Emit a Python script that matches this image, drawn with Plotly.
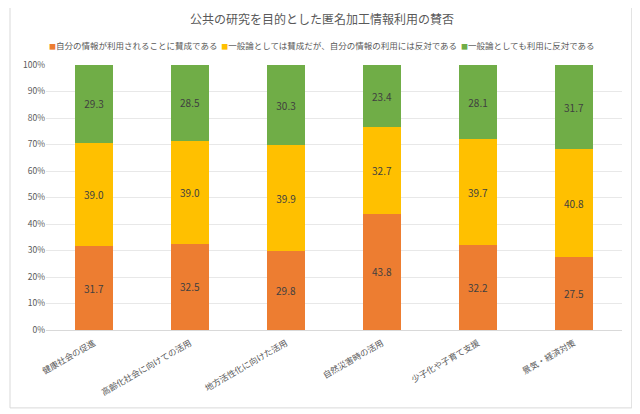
import plotly.graph_objects as go

categories = ["健康社会の促進", "高齢化社会に向けての活用", "地方活性化に向けた活用",
              "自然災害時の活用", "少子化や子育て支援", "景気・経済対策"]
series_names = ["自分の情報が利用されることに賛成である",
                "一般論としては賛成だが、自分の情報の利用には反対である",
                "一般論としても利用に反対である"]
agree = [31.7, 32.5, 29.8, 43.8, 32.2, 27.5]
general_only = [39.0, 39.0, 39.9, 32.7, 39.7, 40.8]
oppose = [29.3, 28.5, 30.3, 23.4, 28.1, 31.7]
y_ticks = [0, 10, 20, 30, 40, 50, 60, 70, 80, 90, 100]

colors = ["#ED7D31", "#FFC000", "#70AD47"]
FONT = "Noto Sans CJK JP"

fig = go.Figure()
for name, vals, col in zip(series_names, [agree, general_only, oppose], colors):
    fig.add_trace(go.Bar(
        x=categories, y=vals, name=name, marker=dict(color=col, line=dict(width=0)),
        text=[f"{v:.1f}" for v in vals], textposition="inside",
        insidetextanchor="middle", textangle=0, showlegend=False,
        textfont=dict(family=FONT, size=10, color="#404040"),
    ))

# legend drawn as a single line of text with coloured squares
legend_text = "&nbsp;&nbsp;".join(
    f"<span style='color:{c};font-size:7px'>■</span>{n}" for n, c in zip(series_names, colors))

# the page body has an 8px margin, so the figure is sized/offset to compensate
fig.update_layout(
    barmode="stack", bargap=0.6,
    width=632, height=406,
    paper_bgcolor="white", plot_bgcolor="white",
    margin=dict(l=38, r=18, t=57, b=84),
    font=dict(family=FONT, color="#595959"),
    title=dict(text="公共の研究を目的とした匿名加工情報利用の賛否", x=0.497, xanchor="center",
               y=0.970, yanchor="middle", font=dict(size=12, color="#595959")),
    annotations=[dict(text=legend_text, xref="paper", yref="paper", x=0.479, y=1.075,
                      xanchor="center", yanchor="middle", showarrow=False,
                      font=dict(size=8.5, color="#595959"))],
    uniformtext=dict(minsize=8, mode="show"),
    shapes=[dict(type="rect", xref="paper", yref="paper",
                 x0=-0.0625, x1=1.017, y0=-0.294, y1=1.238,
                 line=dict(color="#D9D9D9", width=1))],
)
fig.update_yaxes(range=[0, 100], tickvals=y_ticks, ticktext=[f"{t}%" for t in y_ticks],
                 showgrid=True, gridcolor="#E8E8E8", gridwidth=1, zeroline=False,
                 showline=False, tickfont=dict(size=8.5, color="#595959"), ticks="",
                 fixedrange=True, automargin=False)
fig.update_xaxes(tickangle=-30, tickfont=dict(size=8.5, color="#595959"), showline=True,
                 linecolor="#D9D9D9", ticks="outside", ticklen=4,
                 tickcolor="rgba(0,0,0,0)", showgrid=False, automargin=False)

fig.write_html("out.html")
